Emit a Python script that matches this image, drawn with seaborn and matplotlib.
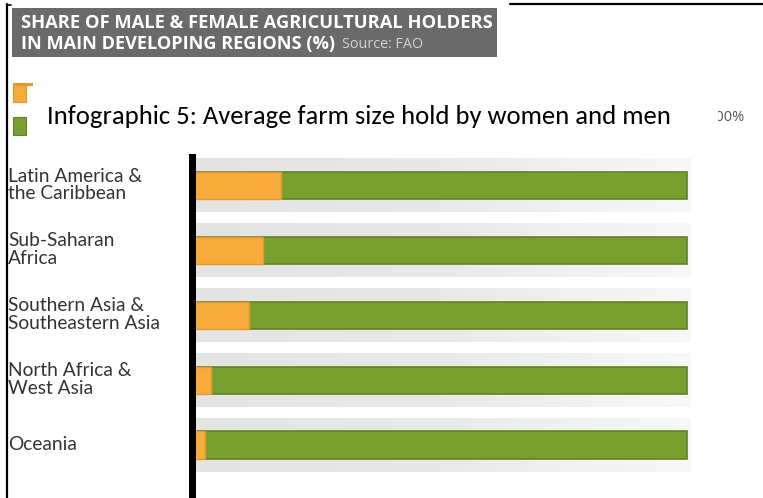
import numpy as np
import pandas as pd
import matplotlib
matplotlib.use("Agg")
import matplotlib.pyplot as plt
import matplotlib.transforms as mtransforms
from matplotlib.patches import Rectangle
from matplotlib.lines import Line2D
import seaborn as sns

# ---- data -------------------------------------------------------------
regions = [
    "Latin America &\nthe Caribbean",
    "Sub-Saharan\nAfrica",
    "Southern Asia &\nSoutheastern Asia",
    "North Africa &\nWest Asia",
    "Oceania",
]
female_share = [18.0, 14.5, 11.6, 3.9, 2.7]
male_share = [100 - f for f in female_share]

title_line1 = "SHARE OF MALE & FEMALE AGRICULTURAL HOLDERS"
title_line2 = "IN MAIN DEVELOPING REGIONS (%)"
source_text = "Source: FAO"
caption = "Infographic 5: Average farm size hold by women and men"
scale_end_label = "100%"

df = pd.DataFrame({"region": regions, "female": female_share, "male": male_share})
df["total"] = df["female"] + df["male"]

ORANGE = "#f6ab3a"
ORANGE_EDGE = "#e2982c"
GREEN = "#7a9f31"
GREEN_EDGE = "#5f8226"
HEADER_GREY = "#6a6a6a"

sns.set_theme(style="white")
plt.rcParams["font.family"] = ["Lato", "DejaVu Sans"]

W, H = 763, 498
fig = plt.figure(figsize=(W / 100, H / 100), dpi=100)
fig.patch.set_facecolor("white")


def fx(px):
    return px / W


def fy(py):
    return 1 - py / H


renderer = fig.canvas.get_renderer()


def fit_text(x_px, baseline_px, s, width_px, **kw):
    """Place text with its left edge at x_px and scale the size to span width_px."""
    t = fig.text(fx(x_px), fy(baseline_px), s, va="baseline", ha="left", **kw)
    size = t.get_fontsize()
    for _ in range(3):
        w = t.get_window_extent(renderer).width
        size *= width_px / w
        t.set_fontsize(size)
    return t


# ---- main bar axes ----------------------------------------------------
px_per_unit = (687 - 191.5) / 100.0
ax = fig.add_axes([fx(191.5), 0, fx(W - 191.5), (H - 157) / H])
ax.set_facecolor("none")

# light grey bands behind each bar, fading towards the right
grad = np.linspace(0, 1, 256).reshape(1, -1)
band_cmap = matplotlib.colors.LinearSegmentedColormap.from_list(
    "band", ["#e4e4e4", "#e9e9e9", "#f8f8f8"])
for i in range(len(regions)):
    ax.imshow(grad, cmap=band_cmap, aspect="auto",
              extent=(0, 100.6, i + 0.41, i - 0.41), zorder=0.5,
              interpolation="bilinear")

sns.barplot(data=df, x="total", y="region", orient="h", color=GREEN,
            width=0.42, edgecolor=GREEN_EDGE, linewidth=1.2, saturation=1,
            ax=ax, zorder=2)
sns.barplot(data=df, x="female", y="region", orient="h", color=ORANGE,
            width=0.42, edgecolor=ORANGE_EDGE, linewidth=1.0, saturation=1,
            ax=ax, zorder=3)

ax.set_xlim(0, (W - 191.5) / px_per_unit)
ax.set_ylim(4.815, -0.44)
ax.set_xlabel("")
ax.set_ylabel("")
ax.set_xticks([])
for side in ["top", "right", "bottom"]:
    ax.spines[side].set_visible(False)
ax.spines["left"].set_color("black")
ax.spines["left"].set_linewidth(7 * 0.72)
ax.spines["left"].set_zorder(5)

ax.tick_params(axis="y", length=0, pad=(191.5 - 8) * 0.72)
shift = mtransforms.ScaledTranslation(0, 2.5 / 100, fig.dpi_scale_trans)
for lab in ax.get_yticklabels():
    lab.set_ha("left")
    lab.set_fontsize(13.8)
    lab.set_color("#333333")
    lab.set_linespacing(1.05)
    lab.set_transform(lab.get_transform() + shift)

# ---- header block -----------------------------------------------------
fig.add_artist(Rectangle((fx(12), fy(57)), fx(497 - 12), 49 / H,
                         transform=fig.transFigure, facecolor=HEADER_GREY,
                         edgecolor="none", zorder=1))
fit_text(21, 27.5, title_line1, 471, color="white", fontweight="bold",
         family=["Open Sans", "DejaVu Sans"], fontsize=12, zorder=2)
fit_text(21, 48.5, title_line2, 314, color="white", fontweight="bold",
         family=["Open Sans", "DejaVu Sans"], fontsize=12, zorder=2)
fit_text(342, 48.5, source_text, 81, color="#d2d2d2",
         family=["Open Sans", "DejaVu Sans"], fontsize=8, zorder=2)

# ---- legend swatches and scale label -----------------------------------
fig.add_artist(Rectangle((fx(13), fy(102)), fx(13), 19 / H,
                         transform=fig.transFigure, facecolor=ORANGE,
                         edgecolor=ORANGE_EDGE, linewidth=0.8, zorder=1))
fig.add_artist(Rectangle((fx(13), fy(86)), fx(20), 3 / H,
                         transform=fig.transFigure, facecolor=ORANGE_EDGE,
                         edgecolor="none", zorder=1))
fig.add_artist(Rectangle((fx(13), fy(135)), fx(13), 18 / H,
                         transform=fig.transFigure, facecolor=GREEN,
                         edgecolor=GREEN_EDGE, linewidth=0.8, zorder=1))
fig.text(fx(745), fy(117), scale_end_label, fontsize=10.5, color="#555555",
         ha="right", va="center", zorder=1,
         family=["Open Sans", "DejaVu Sans"])

# ---- caption over the legend ------------------------------------------
fig.add_artist(Rectangle((fx(38), fy(137)), fx(718 - 38), 48 / H,
                         transform=fig.transFigure, facecolor="white",
                         edgecolor="none", zorder=3))
fit_text(47, 124, caption, 623, color="black",
         family=["Carlito", "Liberation Sans Narrow", "Lato", "DejaVu Sans"],
         fontsize=16, zorder=4)

# ---- frame lines -------------------------------------------------------
fig.add_artist(Line2D([fx(7), fx(7)], [fy(4), 0], transform=fig.transFigure,
                      color="black", linewidth=1.6, zorder=6))
fig.add_artist(Line2D([fx(7), fx(11)], [fy(5), fy(5)], transform=fig.transFigure,
                      color="black", linewidth=1.2, zorder=6))
fig.add_artist(Line2D([fx(510), 1], [fy(4.5), fy(4.5)], transform=fig.transFigure,
                      color="black", linewidth=1.6, zorder=6))

fig.savefig("out.png", dpi=100)
